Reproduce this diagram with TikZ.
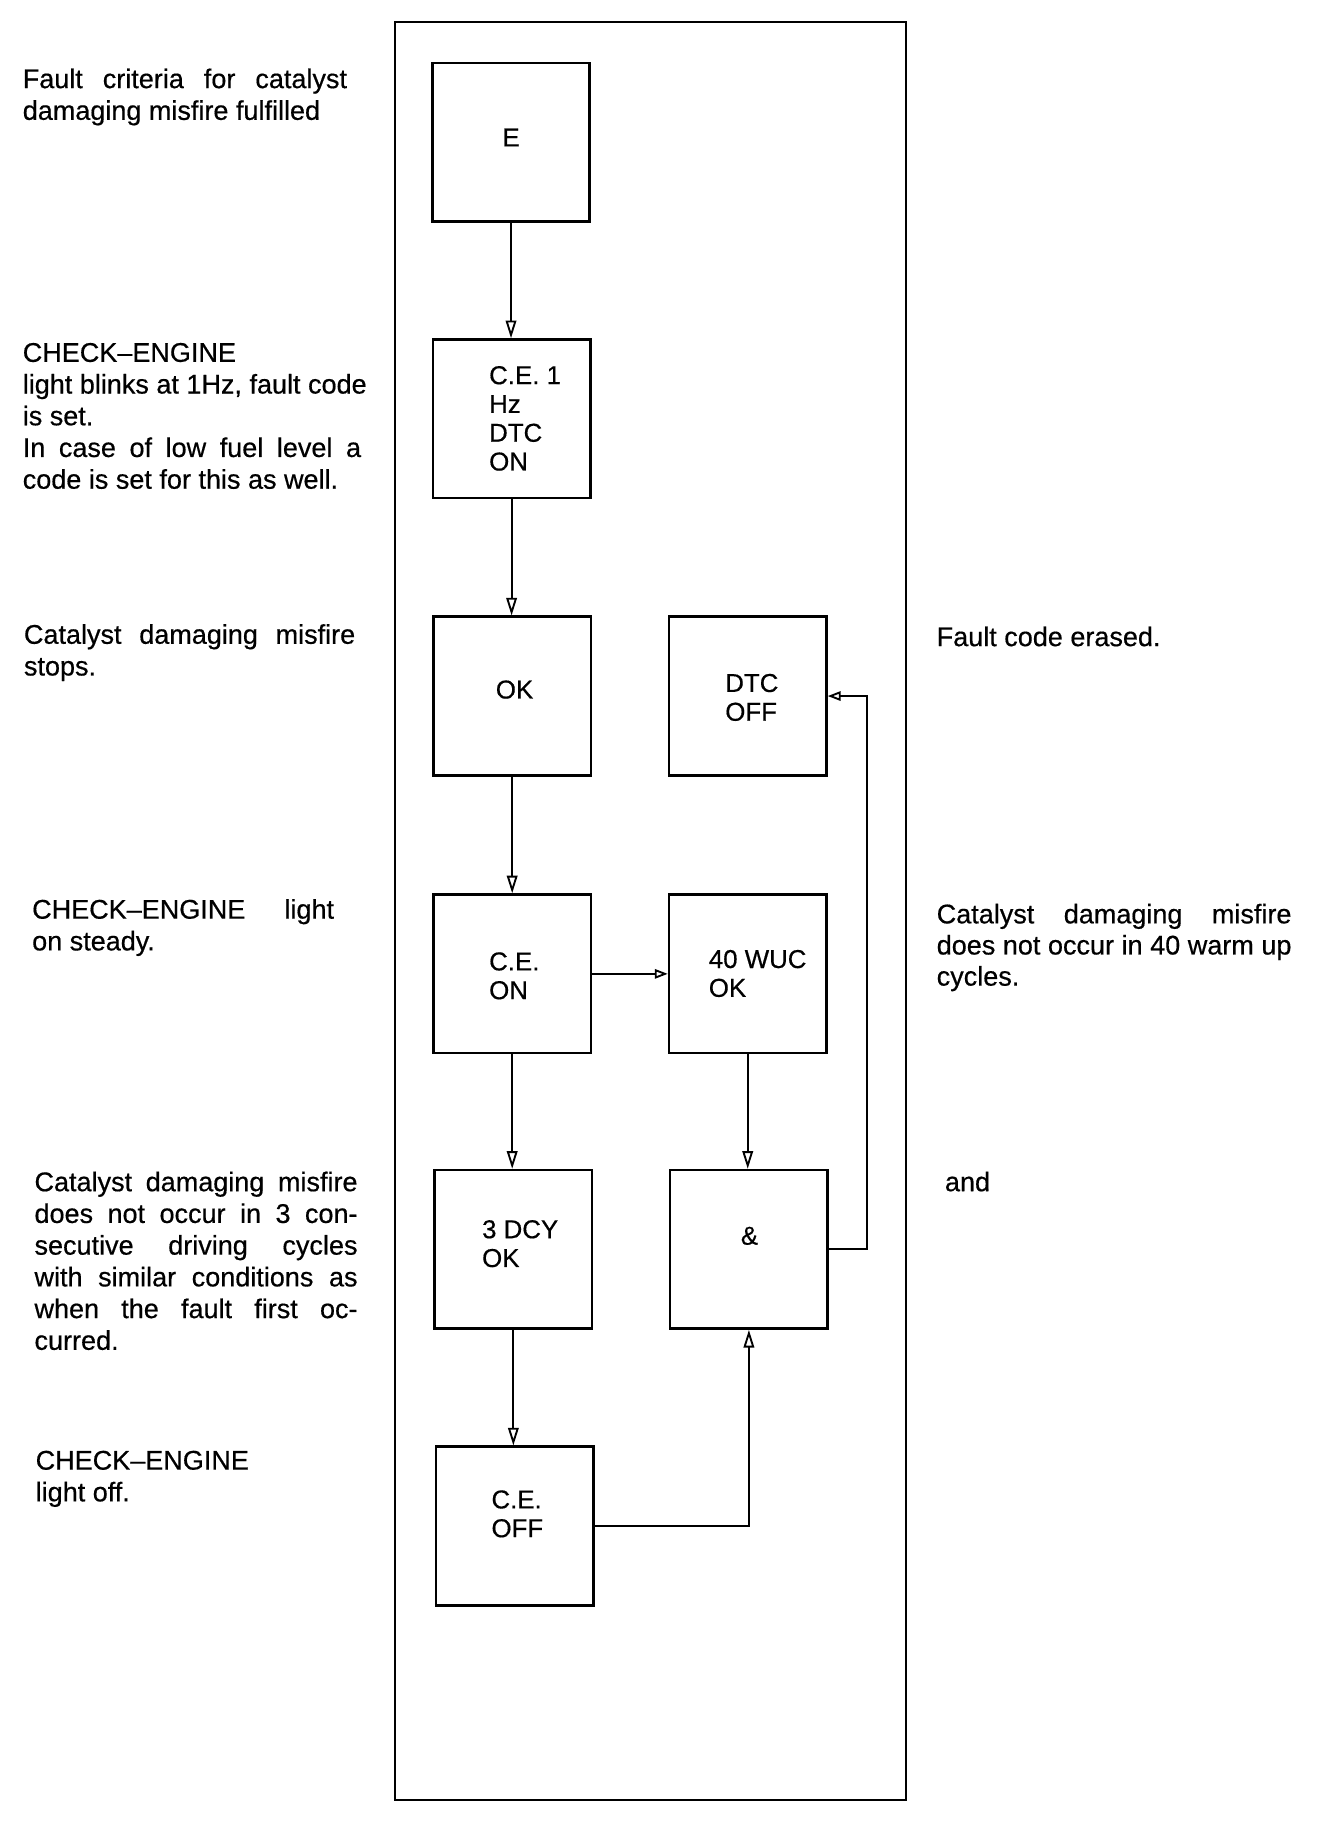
\documentclass[tikz,border=0pt]{standalone}
\usepackage{fontspec}
\setmainfont{Liberation Sans}
\newfontfamily\heavyfont{Liberation Sans}[FakeBold=0.5]
\usetikzlibrary{arrows.meta}
\tikzset{
  txt/.style={font=\heavyfont\fontsize{11.5pt}{13.5pt}\selectfont, inner sep=0pt, anchor=base west},
  btxt/.style={font=\heavyfont\fontsize{11pt}{12.5pt}\selectfont, inner sep=0pt, anchor=base west},
  box/.style={draw, line width=1.1pt, minimum width=67pt, minimum height=67.5pt, inner sep=0pt},
  arr/.style={line width=0.9pt, -{Triangle[open,length=7.5pt,width=4.5pt,line width=0.8pt]}},
  harr/.style={line width=0.9pt, -{Triangle[open,length=5.5pt,width=4pt,line width=0.8pt]}},
  frm/.style={line width=0.9pt}
}
\newcommand{\jl}[2]{\makebox[#1][s]{#2}}
\begin{document}
\begin{tikzpicture}[x=0.5pt,y=-0.5pt]
\useasboundingbox (0,0) rectangle (1144,1568);
% outer frame
\draw[frm] (336,19) rectangle (771,1532);

% boxes
\node[box] (E) at (435,121) {};
\node[box] (CE1) at (435.5,356.5) {};
\node[box] (OK) at (436,592.5) {};
\node[box] (DTC) at (636.5,592.5) {};
\node[box] (CEON) at (436,829) {};
\node[box] (WUC) at (636.5,829) {};
\node[box] (DCY) at (437,1063.5) {};
\node[box] (AND) at (637.5,1063.5) {};
\node[box] (CEOFF) at (438,1299) {};

% box texts
\node[btxt, anchor=center] (tE) at (435,117) {E};
\node[btxt] (tCE1a) at (416,327) {C.E. 1};
\node[btxt] (tCE1b) at (416,351.5) {Hz};
\node[btxt] (tCE1c) at (416,376) {DTC};
\node[btxt] (tCE1d) at (416,400.5) {ON};
\node[btxt, anchor=center] (tOK) at (438,587) {OK};
\node[btxt] (tDTCa) at (617,589) {DTC};
\node[btxt] (tDTCb) at (617,613.5) {OFF};
\node[btxt] (tCEONa) at (416,826) {C.E.};
\node[btxt] (tCEONb) at (416,850.5) {ON};
\node[btxt] (tWUCa) at (603,824) {40 WUC};
\node[btxt] (tWUCb) at (603,848.5) {OK};
\node[btxt] (tDCYa) at (410,1054) {3 DCY};
\node[btxt] (tDCYb) at (410,1078.5) {OK};
\node[btxt, anchor=center] (tAND) at (638,1052) {\&};
\node[btxt] (tCEOFFa) at (418,1284) {C.E.};
\node[btxt] (tCEOFFb) at (418,1308.5) {OFF};

% connectors
\coordinate (rr) at (738,0);
\draw[arr] (E.south) -- (E.south |- CE1.north);
\draw[arr] (CE1.south) -- (CE1.south |- OK.north);
\draw[arr] (OK.south) -- (OK.south |- CEON.north);
\draw[arr] (CEON.south) -- (CEON.south |- DCY.north);
\draw[arr] (DCY.south) -- (DCY.south |- CEOFF.north);
\draw[harr] (CEON.east) -- (CEON.east -| WUC.west);
\draw[arr] (WUC.south) -- (WUC.south |- AND.north);
\draw[arr] (CEOFF.east) -- (CEOFF.east -| AND.south) -- (AND.south);
\draw[harr] (AND.east) -- (AND.east -| rr) |- (DTC.east);

% left texts
\node[txt] (a1) at (19,75) {\jl{138pt}{Fault criteria for catalyst}};
\node[txt] (a2) at (19,102) {damaging misfire fulfilled};

\node[txt] (b1) at (19,308) {CHECK–ENGINE};
\node[txt] (b2) at (19,335) {light blinks at 1Hz, fault code};
\node[txt] (b3) at (19,362) {is set.};
\node[txt] (b4) at (19,389) {\jl{144pt}{In case of low fuel level a}};
\node[txt] (b5) at (19,416) {code is set for this as well.};

\node[txt] (c1) at (20,548) {\jl{141pt}{Catalyst damaging misfire}};
\node[txt] (c2) at (20,575) {stops.};

\node[txt] (d1) at (27,782) {\jl{128.5pt}{CHECK–ENGINE light}};
\node[txt] (d2) at (27,809) {on steady.};

\node[txt] (e1) at (29,1014) {\jl{137.5pt}{Catalyst damaging misfire}};
\node[txt] (e2) at (29,1041) {\jl{137.5pt}{does not occur in 3 con-}};
\node[txt] (e3) at (29,1068) {\jl{137.5pt}{secutive driving cycles}};
\node[txt] (e4) at (29,1095) {\jl{137.5pt}{with similar conditions as}};
\node[txt] (e5) at (29,1122) {\jl{137.5pt}{when the fault first oc-}};
\node[txt] (e6) at (29,1149) {curred.};

\node[txt] (f1) at (30,1251) {CHECK–ENGINE};
\node[txt] (f2) at (30,1278) {light off.};

% right texts
\node[txt] (g1) at (797,550) {Fault code erased.};
\node[txt] (h1) at (797,786) {\jl{151pt}{Catalyst damaging misfire}};
\node[txt] (h2) at (797,812.5) {\jl{151pt}{does not occur in 40 warm up}};
\node[txt] (h3) at (797,839) {cycles.};
\node[txt] (i1) at (804,1014) {and};
\end{tikzpicture}
\end{document}
